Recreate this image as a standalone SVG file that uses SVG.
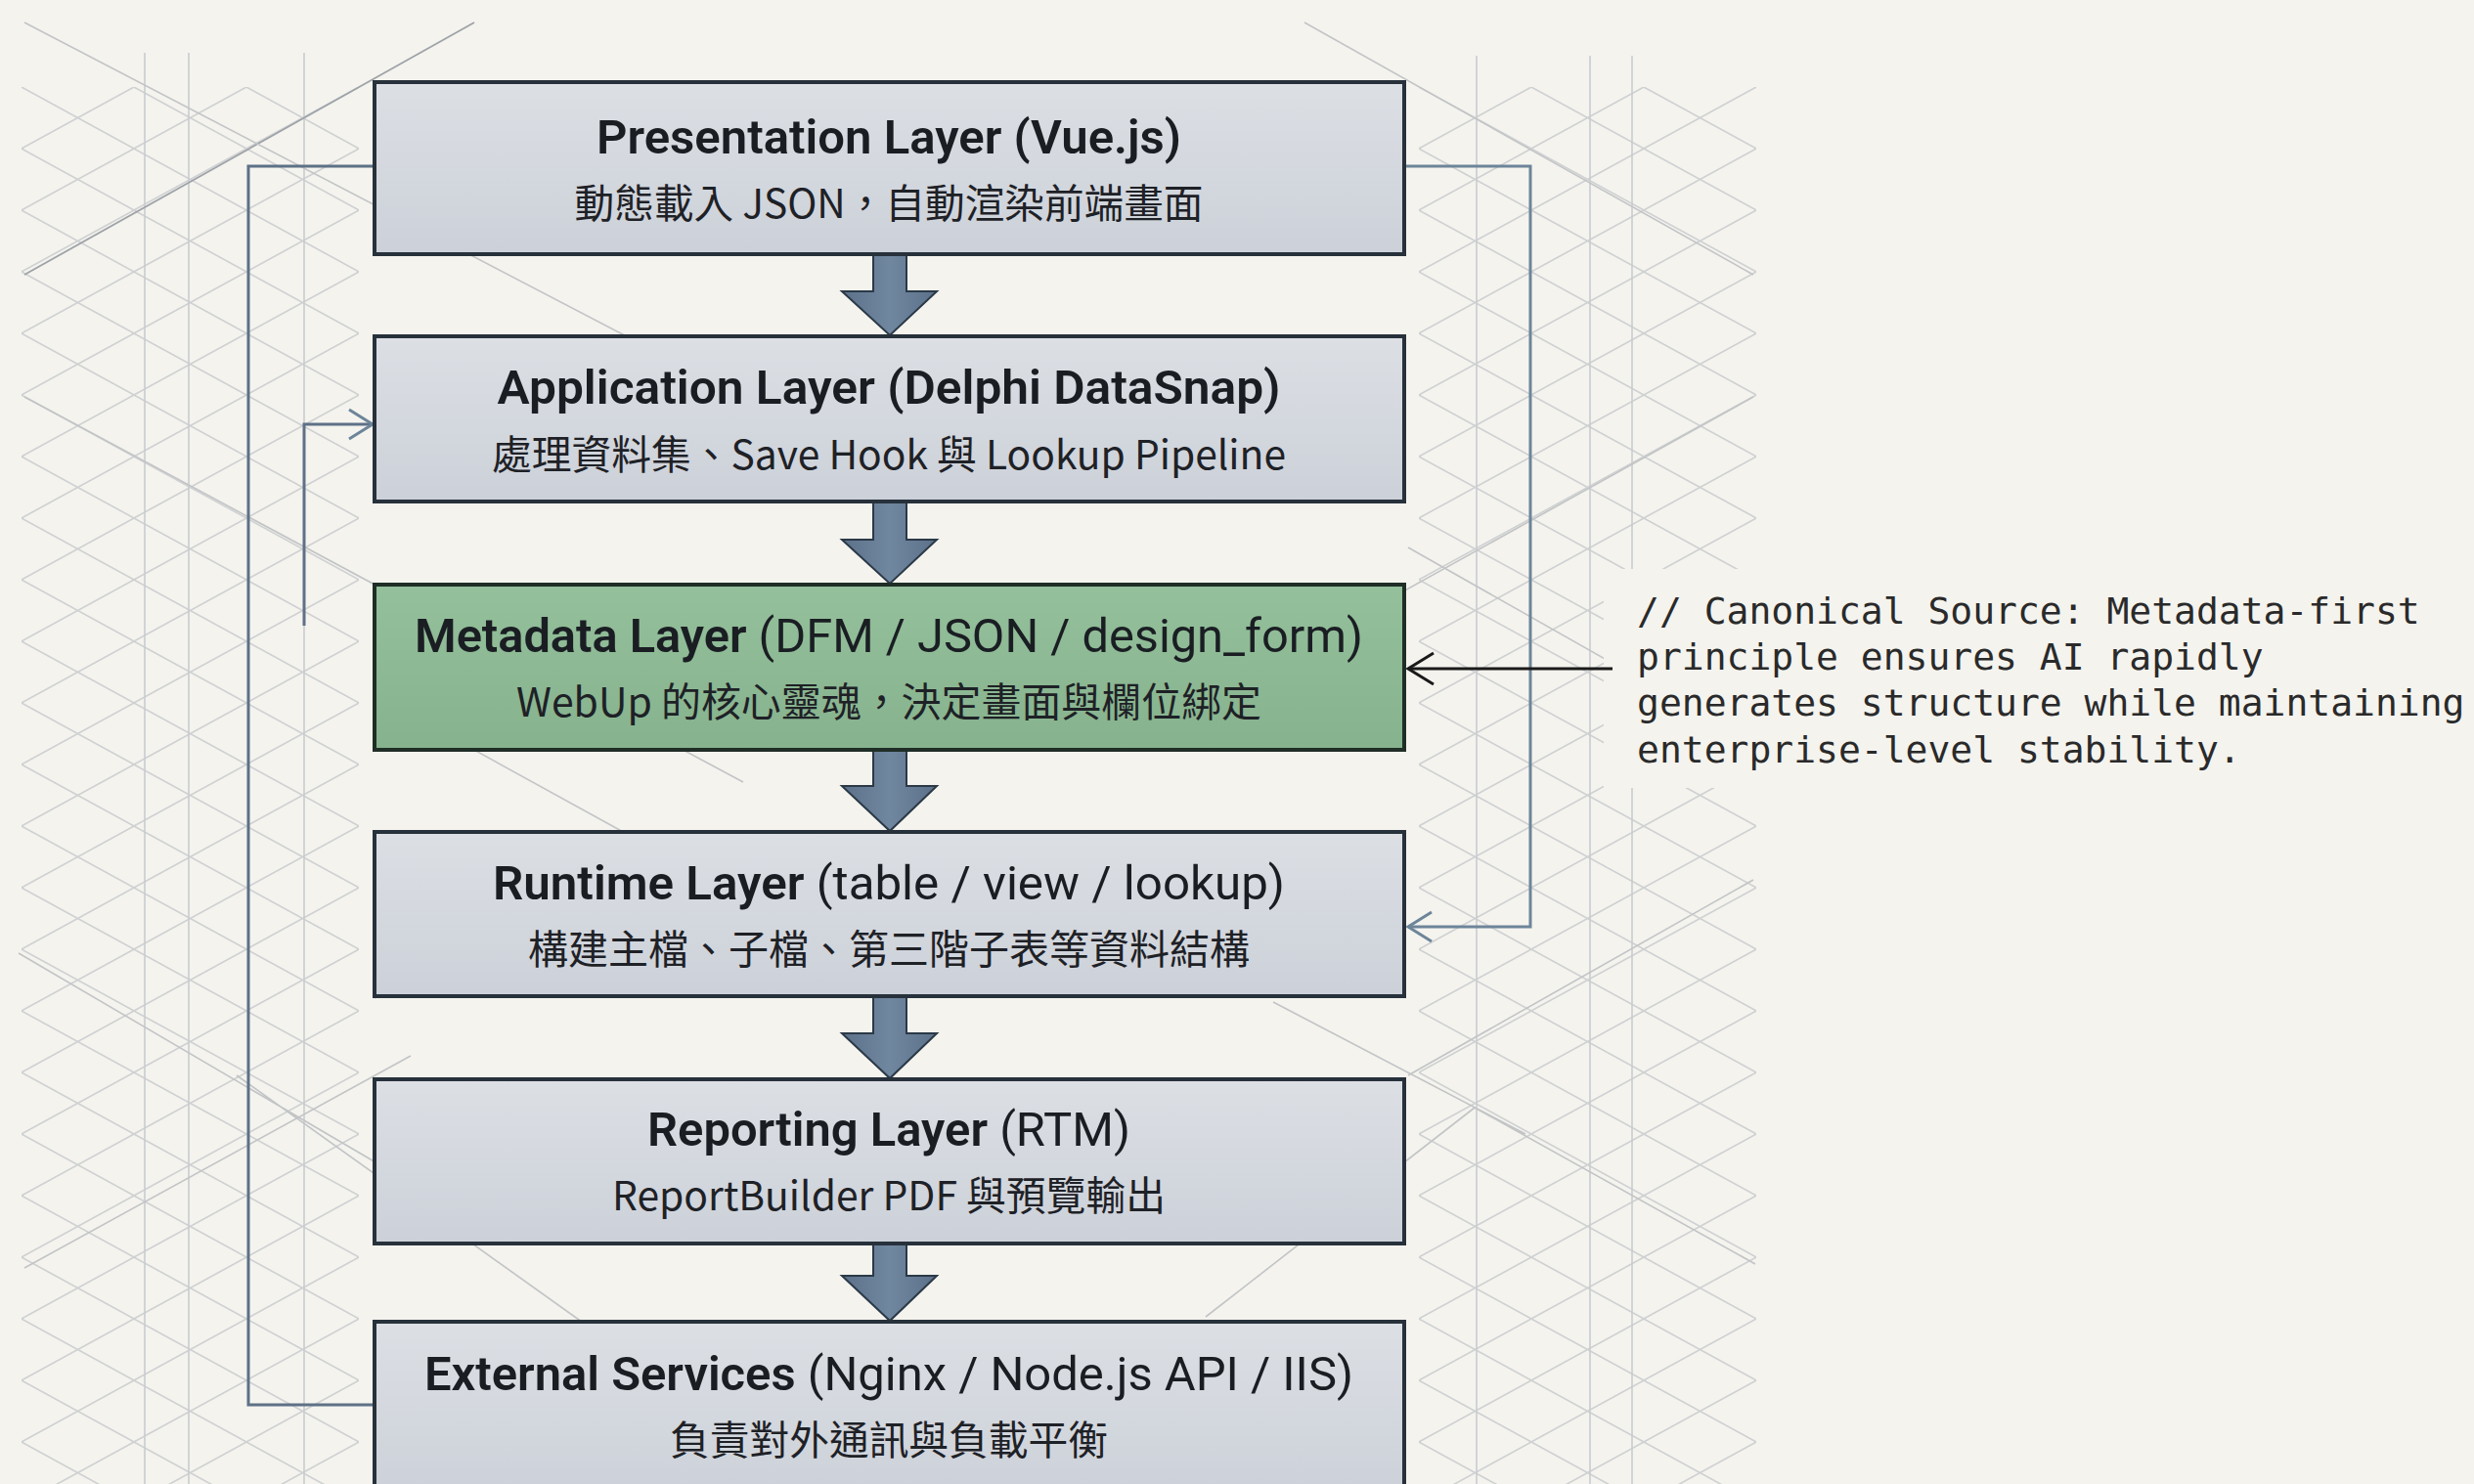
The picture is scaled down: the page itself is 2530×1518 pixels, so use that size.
<svg xmlns="http://www.w3.org/2000/svg" width="2530" height="1518" viewBox="0 0 2530 1518">
<style>
.bg{fill:#f4f3ee}
.vl{stroke:#c9ccd0;stroke-width:1.6;fill:none}
.dg{stroke:#c2c4c6;stroke-width:1.6;fill:none}
.dgd{stroke:#9ea3a8;stroke-width:1.8;fill:none}
.box{fill:url(#gGray);stroke:#27313b;stroke-width:4}
.boxg{fill:url(#gGreen);stroke:#1f2e26;stroke-width:4}
.blk{fill:url(#gArrow);stroke:#2b3947;stroke-width:2;stroke-linejoin:miter}
.t{font-family:Roboto,"Liberation Sans",sans-serif;font-size:48px;fill:#1a1e23;text-anchor:middle}
.b{font-weight:600}
.r{font-weight:400}
.s{font-family:"Noto Sans CJK TC","Noto Sans",sans-serif;font-size:41px;fill:#1e2126;text-anchor:middle}
.con{fill:none;stroke:#5d7186;stroke-width:3}
.con2{fill:none;stroke:#6d8599;stroke-width:3}
.ann{fill:none;stroke:#1a1a1a;stroke-width:3}
.note{font-family:"DejaVu Sans Mono","Liberation Mono",monospace;font-size:38px;fill:#2a2a2a}
</style>
<defs>
<linearGradient id="gGray" x1="0" y1="0" x2="0" y2="1">
<stop offset="0" stop-color="#dcdfe4"/><stop offset="1" stop-color="#ccd1d9"/>
</linearGradient>
<linearGradient id="gGreen" x1="0" y1="0" x2="0" y2="1">
<stop offset="0" stop-color="#94c09b"/><stop offset="1" stop-color="#86b28d"/>
</linearGradient>
<linearGradient id="gArrow" x1="0" y1="0" x2="1" y2="0">
<stop offset="0" stop-color="#5c7189"/><stop offset="0.5" stop-color="#7087a0"/><stop offset="1" stop-color="#5c7189"/>
</linearGradient>
<pattern id="latL" x="22" y="26" width="115" height="63" patternUnits="userSpaceOnUse">
<path d="M0,0 L115,63 M0,63 L115,0" stroke="#cfd1d2" stroke-width="1.6" fill="none"/>
</pattern>
<pattern id="latR" x="1451" y="26" width="115" height="63" patternUnits="userSpaceOnUse">
<path d="M0,0 L115,63 M0,63 L115,0" stroke="#cfd1d2" stroke-width="1.6" fill="none"/>
</pattern>
<marker id="chev" markerUnits="userSpaceOnUse" markerWidth="30" markerHeight="34" viewBox="0 0 30 34" refX="26" refY="17" orient="auto">
<path d="M2,2 L26,17 L2,32" fill="none" stroke="#6d8599" stroke-width="3"/>
</marker>
<marker id="chevK" markerUnits="userSpaceOnUse" markerWidth="32" markerHeight="36" viewBox="0 0 32 36" refX="28" refY="18" orient="auto">
<path d="M2,2 L28,18 L2,34" fill="none" stroke="#1a1a1a" stroke-width="3"/>
</marker>
</defs>

<g id="background">
<rect class="bg" x="0" y="0" width="2530" height="1518"/>
<rect x="22" y="89" width="345" height="1429" fill="url(#latL)"/>
<rect x="1451" y="89" width="345" height="1429" fill="url(#latR)"/>
<path class="vl" d="M148,54 V1518 M193,54 V1518 M311,54 V1518 M1510,57 V1518 M1626,57 V1518 M1669,57 V1518"/>
<path class="dgd" d="M25,281 L485,23"/>
<path class="dg" d="M25,23 L700,375 M25,406 L760,800 M383,711 L650,858 M19,975 L420,1210 M383,1021 L560,930 M25,1297 L420,1080 M242,1100 L620,1370 M1334,23 L1793,281 M1793,406 L1300,680 M1302,1025 L1560,1160 M1508,1133 L1795,1293 M1233,1347 L1508,1133 M1440,560 L1793,760 M1793,900 L1440,1100"/>
<rect class="bg" x="1640" y="582" width="890" height="224"/>
</g>

<g id="connectors">
<polyline class="con" points="383,170 254,170 254,1437 383,1437"/>
<polyline class="con" points="311,640 311,434 381,434" marker-end="url(#chev)"/>
<polyline class="con2" points="1436,170 1565,170 1565,948 1440,948" marker-end="url(#chev)"/>
<line class="ann" x1="1649" y1="684" x2="1440" y2="684" marker-end="url(#chevK)"/>
<path class="blk" d="M893,260 H927 V298 H958 L910,343 L861,298 H893 Z"/>
<path class="blk" d="M893,513 H927 V552 H958 L910,597 L861,552 H893 Z"/>
<path class="blk" d="M893,767 H927 V804 H958 L910,850 L861,804 H893 Z"/>
<path class="blk" d="M893,1019 H927 V1057 H958 L910,1103 L861,1057 H893 Z"/>
<path class="blk" d="M893,1272 H927 V1305 H958 L910,1351 L861,1305 H893 Z"/>
</g>

<g id="node-presentation">
<rect class="box" x="383" y="84" width="1053" height="176"/>
<text class="t b" x="909" y="157" textLength="598" lengthAdjust="spacingAndGlyphs">Presentation Layer (Vue.js)</text>
<text class="s" x="909" y="223" textLength="643" lengthAdjust="spacingAndGlyphs">動態載入 JSON，自動渲染前端畫面</text>
</g>

<g id="node-application">
<rect class="box" x="383" y="344" width="1053" height="169"/>
<text class="t b" x="909" y="413" textLength="801" lengthAdjust="spacingAndGlyphs">Application Layer (Delphi DataSnap)</text>
<text class="s" x="909" y="480" textLength="812" lengthAdjust="spacingAndGlyphs">處理資料集、Save Hook 與 Lookup Pipeline</text>
</g>

<g id="node-metadata">
<rect class="boxg" x="383" y="598" width="1053" height="169"/>
<text class="t" x="909" y="667" textLength="970" lengthAdjust="spacingAndGlyphs"><tspan class="b">Metadata Layer</tspan><tspan class="r"> (DFM / JSON / design_form)</tspan></text>
<text class="s" x="909" y="733" textLength="762" lengthAdjust="spacingAndGlyphs">WebUp 的核心靈魂，決定畫面與欄位綁定</text>
</g>

<g id="node-runtime">
<rect class="box" x="383" y="851" width="1053" height="168"/>
<text class="t" x="909" y="920" textLength="810" lengthAdjust="spacingAndGlyphs"><tspan class="b">Runtime Layer</tspan><tspan class="r"> (table / view / lookup)</tspan></text>
<text class="s" x="909" y="986" textLength="738" lengthAdjust="spacingAndGlyphs">構建主檔、子檔、第三階子表等資料結構</text>
</g>

<g id="node-reporting">
<rect class="box" x="383" y="1104" width="1053" height="168"/>
<text class="t" x="909" y="1172" textLength="494" lengthAdjust="spacingAndGlyphs"><tspan class="b">Reporting Layer</tspan><tspan class="r"> (RTM)</tspan></text>
<text class="s" x="909" y="1238" textLength="566" lengthAdjust="spacingAndGlyphs">ReportBuilder PDF 與預覽輸出</text>
</g>

<g id="node-external">
<rect class="box" x="383" y="1352" width="1053" height="180"/>
<text class="t" x="909" y="1422" textLength="950" lengthAdjust="spacingAndGlyphs"><tspan class="b">External Services</tspan><tspan class="r"> (Nginx / Node.js API / IIS)</tspan></text>
<text class="s" x="909" y="1488" textLength="448" lengthAdjust="spacingAndGlyphs">負責對外通訊與負載平衡</text>
</g>

<g id="note">
<text class="note" x="1674" y="638">// Canonical Source: Metadata-first</text>
<text class="note" x="1674" y="685">principle ensures AI rapidly</text>
<text class="note" x="1674" y="732">generates structure while maintaining</text>
<text class="note" x="1674" y="780">enterprise-level stability.</text>
</g>
</svg>
